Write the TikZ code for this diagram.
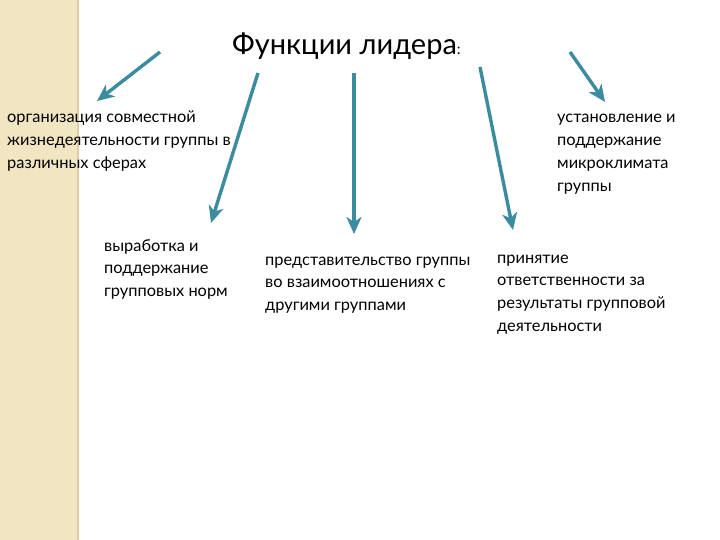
\documentclass[tikz,border=0pt]{standalone}
\usepackage{fontspec}
\setmainfont{Lato}
\usetikzlibrary{arrows.meta}
\definecolor{arrowteal}{HTML}{3A8C9E}
\definecolor{stripbeige}{HTML}{F2E5C2}
\definecolor{stripedge}{HTML}{E2CDA2}
\tikzset{
  conn/.style={draw=arrowteal, line width=3.4pt, -{Stealth[length=17pt,width=15pt,inset=5pt]}},
  body/.style={anchor=base west, inner sep=0pt, align=left, font=\fontsize{16.4}{22.7}\selectfont, text=black},
}
\begin{document}
\begin{tikzpicture}[x=1pt,y=-1pt]
\useasboundingbox (0,0) rectangle (720,540);
\fill[white] (0,0) rectangle (720,540);
\fill[stripbeige] (0,0) rectangle (78,540);
\fill[stripedge] (76.5,0) rectangle (79,540);

\node[anchor=base west, inner sep=0pt, font=\fontsize{29}{32}\selectfont] (title) at (232,55) {Функции лидера{\fontsize{15}{15}\selectfont:}};

% anchors are at the baseline of the last line
\node[body] (t1) at (7,168.4) {организация совместной\\жизнедеятельности группы в\\различных сферах};
\node[body] (t2) at (104,296.4) {выработка и\\поддержание\\групповых норм};
\node[body] (t3) at (265,310.4) {представительство группы\\во взаимоотношениях с\\другими группами};
\node[body] (t4) at (497,331.1) {принятие\\ответственности за\\результаты групповой\\деятельности};
\node[body] (t5) at (557,191.1) {установление и\\поддержание\\микроклимата\\группы};

\coordinate (s1) at (160,52);  \coordinate (e1) at (97,101);
\coordinate (s2) at (258,73);  \coordinate (e2) at (211,223);
\coordinate (s3) at (354,73);  \coordinate (e3) at (354,234);
\coordinate (s4) at (480,67);  \coordinate (e4) at (513,230);
\coordinate (s5) at (570,52);  \coordinate (e5) at (605,102);

\draw[conn] (s1) -- (e1);
\draw[conn] (s2) -- (e2);
\draw[conn] (s3) -- (e3);
\draw[conn] (s4) -- (e4);
\draw[conn] (s5) -- (e5);
\end{tikzpicture}
\end{document}
